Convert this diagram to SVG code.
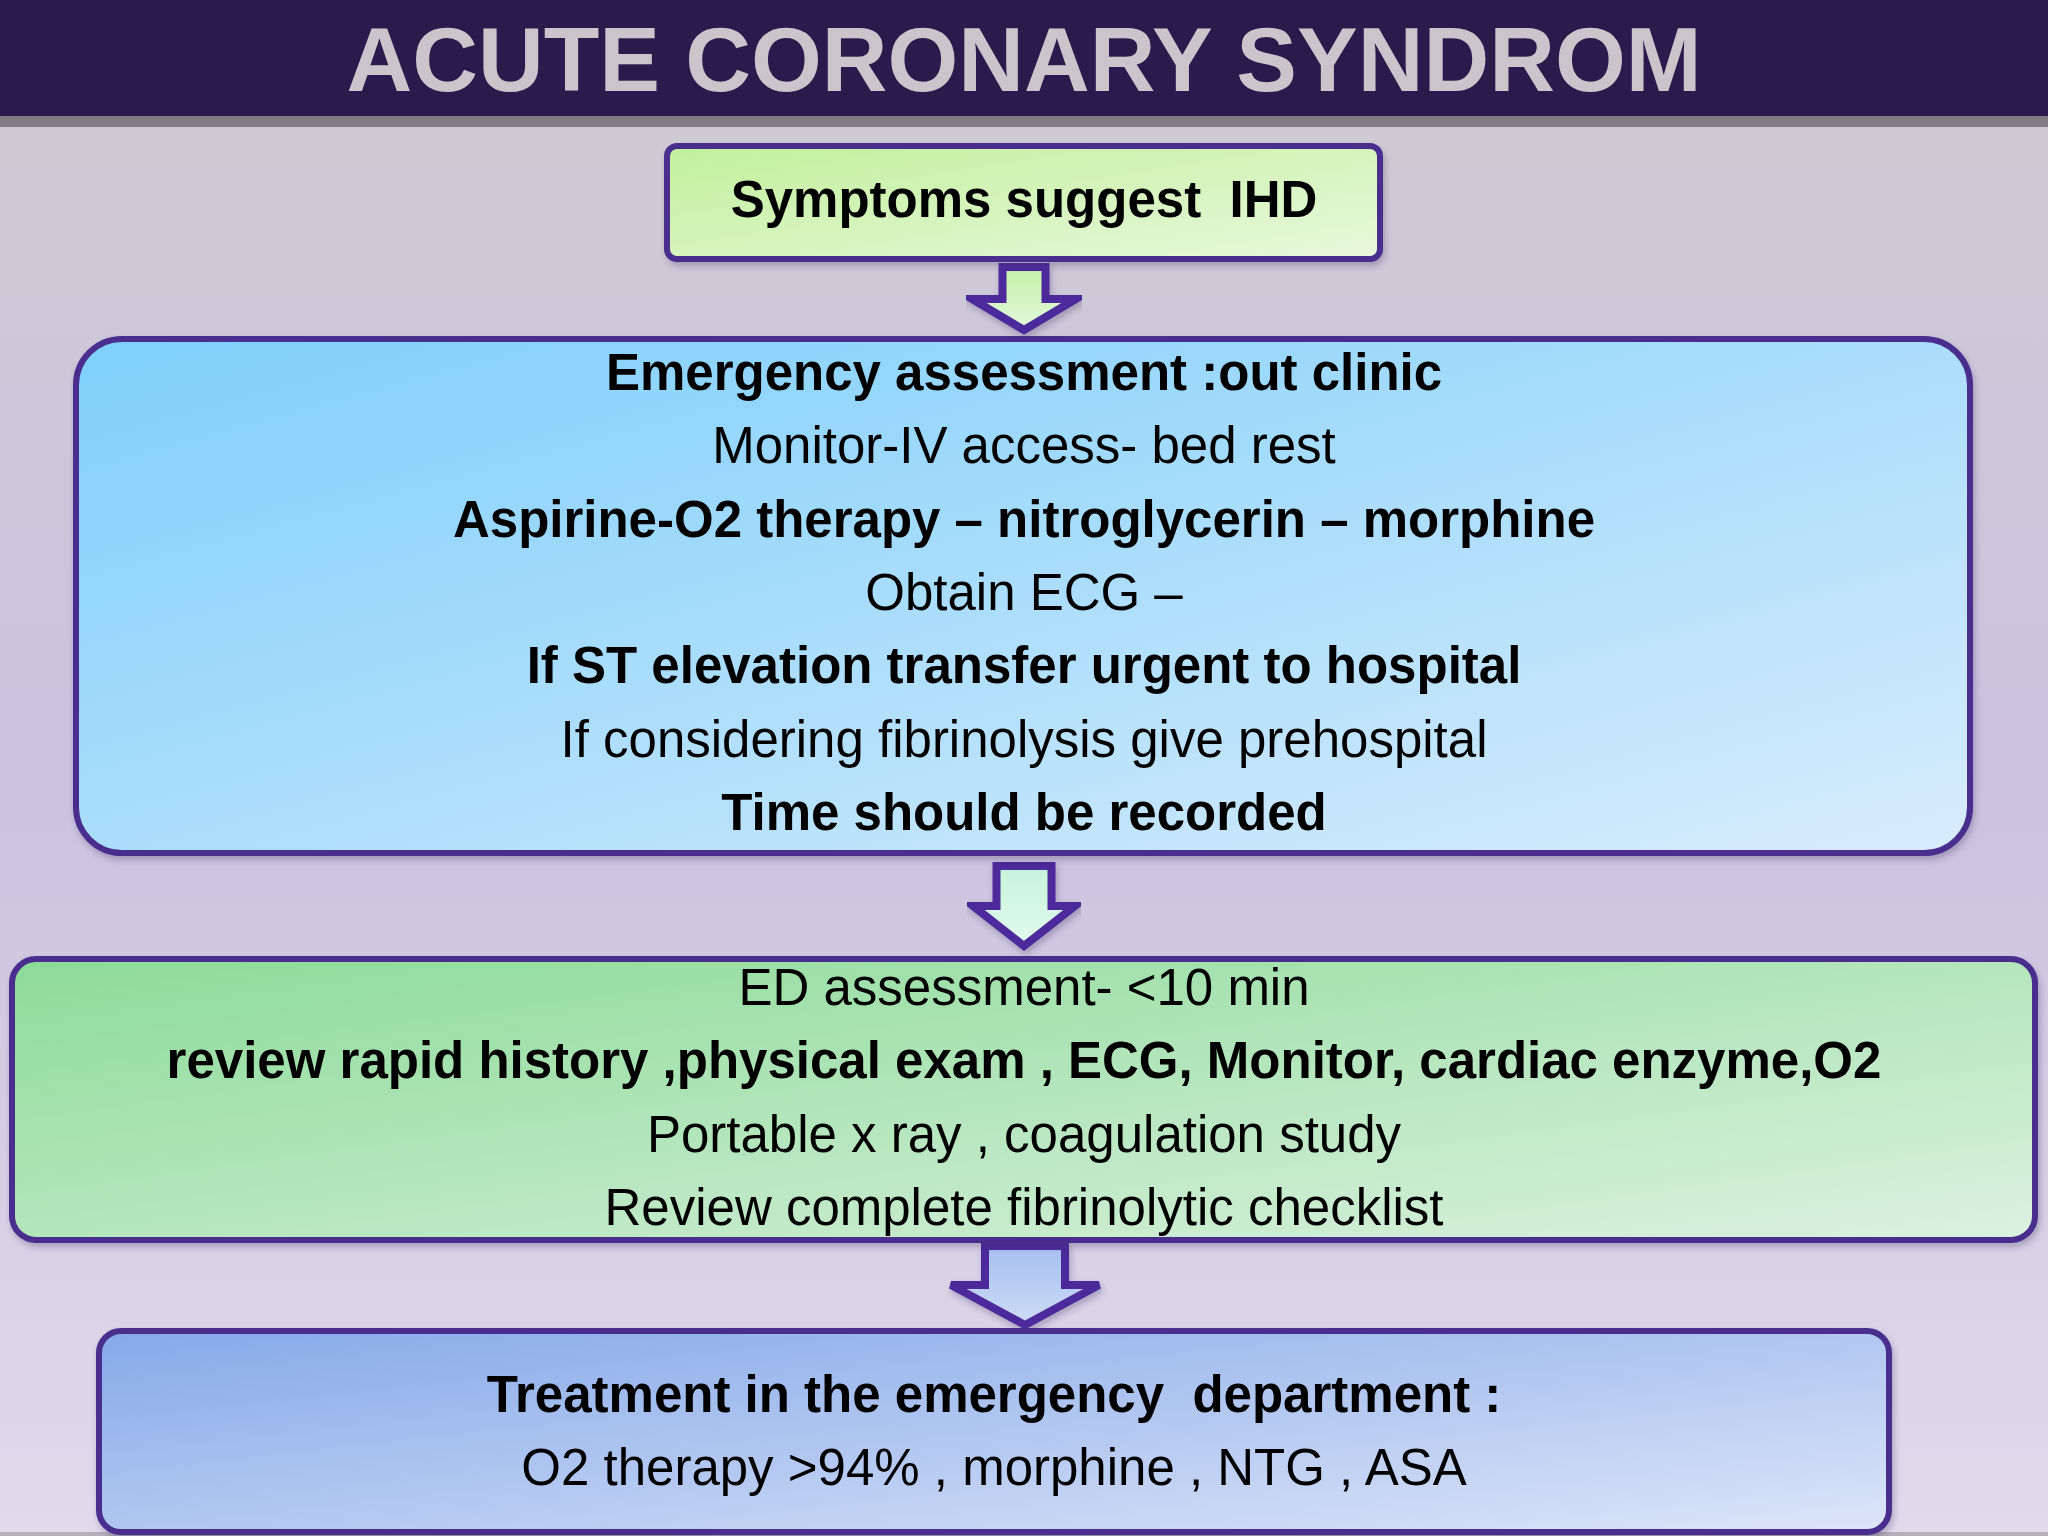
<svg xmlns="http://www.w3.org/2000/svg" width="2048" height="1536" viewBox="0 0 2048 1536">
  <defs>
    <linearGradient id="bg" x1="0" y1="0" x2="0" y2="1">
      <stop offset="0" stop-color="#d0cdd3"/>
      <stop offset="0.5" stop-color="#cac2de"/>
      <stop offset="1" stop-color="#dfdbea"/>
    </linearGradient>
    <linearGradient id="gSym" x1="0" y1="0" x2="1" y2="1">
      <stop offset="0" stop-color="#c2f09c"/>
      <stop offset="1" stop-color="#e8f8dc"/>
    </linearGradient>
    <linearGradient id="gEm" x1="0" y1="0" x2="1" y2="1">
      <stop offset="0" stop-color="#7ecffb"/>
      <stop offset="1" stop-color="#d8ecfc"/>
    </linearGradient>
    <linearGradient id="gEd" x1="0" y1="0" x2="1" y2="1">
      <stop offset="0" stop-color="#8cdb98"/>
      <stop offset="1" stop-color="#dcf1e0"/>
    </linearGradient>
    <linearGradient id="gTr" x1="0" y1="0" x2="1" y2="1">
      <stop offset="0" stop-color="#85a9e8"/>
      <stop offset="1" stop-color="#dde5f9"/>
    </linearGradient>
    <linearGradient id="gA1" x1="0" y1="0" x2="0" y2="1">
      <stop offset="0" stop-color="#c4f0a8"/>
      <stop offset="1" stop-color="#e2f8dc"/>
    </linearGradient>
    <linearGradient id="gA2" x1="0" y1="0" x2="0" y2="1">
      <stop offset="0" stop-color="#c6f3dc"/>
      <stop offset="1" stop-color="#e2fbea"/>
    </linearGradient>
    <linearGradient id="gA3" x1="0" y1="0" x2="0" y2="1">
      <stop offset="0" stop-color="#a6bff0"/>
      <stop offset="1" stop-color="#cddcf6"/>
    </linearGradient>
    <filter id="sh" x="-5%" y="-10%" width="110%" height="125%">
      <feDropShadow dx="2" dy="4" stdDeviation="3" flood-color="#3a2a60" flood-opacity="0.3"/>
    </filter>
    <style>
      .box { stroke: #4a2d8e; stroke-width: 6; }
      .arrow { stroke: #4e2b9c; stroke-width: 8; stroke-linejoin: miter; }
      text { font-family: "Liberation Sans", Arial, sans-serif; font-size: 51px; fill: #000; text-anchor: middle; white-space: pre; }
      .b { font-weight: bold; }
      .title { font-size: 91px; font-weight: bold; fill: #c9c5cb; }
    </style>
  </defs>

  <rect x="0" y="0" width="2048" height="1536" fill="url(#bg)"/>
  <rect x="0" y="1532" width="2048" height="4" fill="#b5b1b9"/>

  <g id="header">
    <rect x="0" y="0" width="2048" height="116" fill="#2a1b4d"/>
    <rect x="0" y="116" width="2048" height="11" fill="#807c82"/>
    <text class="title" x="1024" y="91">ACUTE CORONARY SYNDROM</text>
  </g>

  <g id="connectors">
    <path class="arrow" fill="url(#gA1)" d="M1002.5 267 H1045.5 V299 H1076 L1024 330 L972 299 H1002.5 Z" filter="url(#sh)"/>
    <path class="arrow" fill="url(#gA2)" d="M996.5 866 H1051.5 V906 H1075 L1024 946 L973 906 H996.5 Z" filter="url(#sh)"/>
    <path class="arrow" fill="url(#gA3)" d="M985 1246 H1065 V1285 H1099 L1025 1325 L951 1285 H985 Z" filter="url(#sh)"/>
  </g>

  <g id="node-symptoms">
    <rect class="box" x="667" y="146" width="713" height="113" rx="10" fill="url(#gSym)" filter="url(#sh)"/>
    <text class="b" x="1024" y="217" xml:space="preserve">Symptoms suggest  IHD</text>
  </g>

  <g id="node-emergency">
    <rect class="box" x="76" y="339" width="1894" height="514" rx="46" fill="url(#gEm)" filter="url(#sh)"/>
    <text class="b" x="1024" y="390">Emergency assessment :out clinic</text>
    <text x="1024" y="463">Monitor-IV access- bed rest</text>
    <text class="b" x="1024" y="537">Aspirine-O2 therapy – nitroglycerin – morphine</text>
    <text x="1024" y="610">Obtain ECG –</text>
    <text class="b" x="1024" y="683">If ST elevation transfer urgent to hospital</text>
    <text x="1024" y="757">If considering fibrinolysis give prehospital</text>
    <text class="b" x="1024" y="830">Time should be recorded</text>
  </g>

  <g id="node-ed">
    <rect class="box" x="12" y="959" width="2023" height="281" rx="24" fill="url(#gEd)" filter="url(#sh)"/>
    <text x="1024" y="1005">ED assessment- &lt;10 min</text>
    <text class="b" x="1024" y="1078">review rapid history ,physical exam , ECG, Monitor, cardiac enzyme,O2</text>
    <text x="1024" y="1152">Portable x ray , coagulation study</text>
    <text x="1024" y="1225">Review complete fibrinolytic checklist</text>
  </g>

  <g id="node-treatment">
    <rect class="box" x="99" y="1331" width="1790" height="201" rx="22" fill="url(#gTr)" filter="url(#sh)"/>
    <text class="b" x="994" y="1412" xml:space="preserve">Treatment in the emergency  department :</text>
    <text x="994" y="1485">O2 therapy &gt;94% , morphine , NTG , ASA</text>
  </g>
</svg>
